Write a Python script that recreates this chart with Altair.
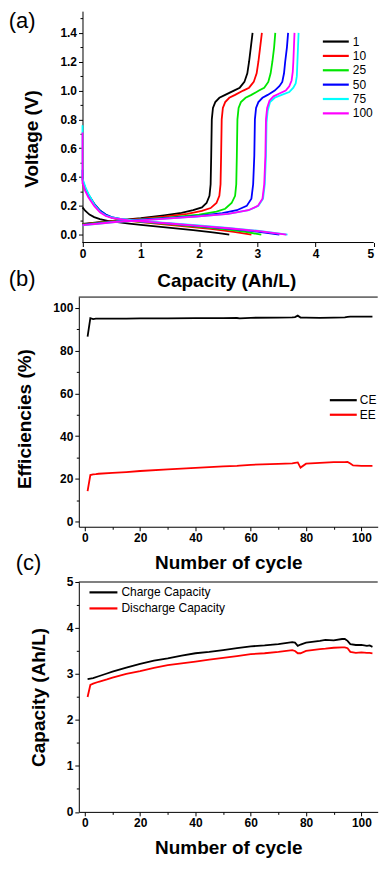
import altair as alt
import pandas as pd

FONT = "Liberation Sans"

# ---------------- Panel (a): voltage profiles ----------------
cycles = ["1", "10", "25", "50", "75", "100"]
cycle_colors = ["#000000", "#ff0000", "#00e600", "#0000ff", "#00ffff", "#ff00ff"]

charge_x = {
    "1":   [0, 0.3, 0.6, 1.0, 1.4, 1.7, 1.9, 2.05, 2.13, 2.18, 2.2, 2.21, 2.22, 2.24, 2.28, 2.35, 2.45, 2.6, 2.7, 2.78, 2.83, 2.86, 2.89, 2.92],
    "10":  [0, 0.3, 0.6, 1.0, 1.4, 1.8, 2.05, 2.2, 2.3, 2.35, 2.37, 2.38, 2.39, 2.41, 2.45, 2.52, 2.62, 2.76, 2.86, 2.94, 2.99, 3.02, 3.05, 3.08],
    "25":  [0, 0.3, 0.6, 1.0, 1.5, 2.0, 2.3, 2.45, 2.56, 2.62, 2.64, 2.65, 2.66, 2.68, 2.72, 2.8, 2.9, 3.03, 3.12, 3.19, 3.23, 3.26, 3.29, 3.31],
    "50":  [0, 0.3, 0.6, 1.0, 1.5, 2.0, 2.4, 2.65, 2.82, 2.9, 2.93, 2.95, 2.96, 2.98, 3.02, 3.09, 3.18, 3.3, 3.38, 3.43, 3.46, 3.48, 3.51, 3.53],
    "75":  [0, 0.3, 0.6, 1.0, 1.5, 2.0, 2.5, 2.85, 3.02, 3.1, 3.13, 3.15, 3.16, 3.18, 3.22, 3.3, 3.42, 3.55, 3.62, 3.66, 3.68, 3.69, 3.7, 3.71],
    "100": [0, 0.3, 0.6, 1.0, 1.5, 2.0, 2.5, 2.85, 3.01, 3.09, 3.12, 3.14, 3.15, 3.17, 3.21, 3.28, 3.38, 3.49, 3.55, 3.59, 3.61, 3.62, 3.63, 3.64],
}
charge_y = {
    "1":   [0.075, 0.088, 0.1, 0.115, 0.135, 0.152, 0.17, 0.19, 0.22, 0.27, 0.35, 0.55, 0.8, 0.88, 0.92, 0.95, 0.97, 1.0, 1.02, 1.06, 1.12, 1.2, 1.3, 1.4],
    "10":  [0.072, 0.085, 0.097, 0.11, 0.125, 0.145, 0.165, 0.185, 0.22, 0.27, 0.35, 0.55, 0.8, 0.88, 0.92, 0.95, 0.97, 1.0, 1.02, 1.06, 1.12, 1.2, 1.3, 1.4],
    "25":  [0.07, 0.083, 0.095, 0.107, 0.12, 0.14, 0.16, 0.18, 0.22, 0.27, 0.35, 0.55, 0.8, 0.88, 0.92, 0.95, 0.97, 1.0, 1.02, 1.06, 1.12, 1.2, 1.3, 1.4],
    "50":  [0.068, 0.08, 0.092, 0.104, 0.117, 0.13, 0.15, 0.17, 0.2, 0.25, 0.35, 0.55, 0.8, 0.88, 0.92, 0.95, 0.97, 1.0, 1.03, 1.06, 1.12, 1.2, 1.3, 1.4],
    "75":  [0.065, 0.077, 0.09, 0.1, 0.113, 0.127, 0.145, 0.17, 0.2, 0.25, 0.35, 0.55, 0.78, 0.86, 0.92, 0.95, 0.97, 0.99, 1.02, 1.05, 1.1, 1.2, 1.3, 1.4],
    "100": [0.066, 0.078, 0.09, 0.1, 0.113, 0.127, 0.145, 0.17, 0.2, 0.25, 0.35, 0.55, 0.8, 0.88, 0.93, 0.96, 0.98, 1.0, 1.03, 1.07, 1.13, 1.2, 1.3, 1.4],
}
discharge_x = {
    "1":   [0, 0.05, 0.12, 0.2, 0.3, 0.45, 0.6, 0.8, 1.0, 1.3, 1.6, 1.9, 2.2, 2.4, 2.52],
    "10":  [0, 0.05, 0.1, 0.2, 0.3, 0.4, 0.5, 0.65, 0.8, 1.0, 1.4, 1.8, 2.2, 2.6, 2.9],
    "25":  [0, 0.05, 0.1, 0.2, 0.3, 0.4, 0.5, 0.65, 0.8, 1.0, 1.5, 2.0, 2.5, 2.8, 3.07],
    "50":  [0, 0, 0.05, 0.1, 0.2, 0.3, 0.4, 0.5, 0.65, 0.8, 1.0, 1.5, 2.0, 2.5, 3.0, 3.38],
    "75":  [0, 0, 0.05, 0.1, 0.2, 0.3, 0.4, 0.5, 0.65, 0.8, 1.0, 1.5, 2.0, 2.5, 3.0, 3.52],
    "100": [0, 0, 0.05, 0.1, 0.2, 0.3, 0.4, 0.5, 0.65, 0.8, 1.0, 1.5, 2.0, 2.5, 3.0, 3.5],
}
discharge_y = {
    "1":   [0.19, 0.165, 0.14, 0.122, 0.108, 0.095, 0.087, 0.077, 0.068, 0.056, 0.044, 0.032, 0.018, 0.008, 0.0],
    "10":  [0.36, 0.31, 0.27, 0.21, 0.165, 0.135, 0.118, 0.105, 0.097, 0.088, 0.072, 0.057, 0.04, 0.02, 0.0],
    "25":  [0.37, 0.32, 0.28, 0.215, 0.168, 0.138, 0.12, 0.107, 0.099, 0.09, 0.073, 0.055, 0.035, 0.02, 0.0],
    "50":  [0.45, 0.38, 0.32, 0.28, 0.215, 0.168, 0.14, 0.122, 0.11, 0.102, 0.093, 0.077, 0.06, 0.042, 0.022, 0.0],
    "75":  [0.76, 0.39, 0.33, 0.285, 0.21, 0.16, 0.133, 0.12, 0.11, 0.103, 0.095, 0.08, 0.064, 0.047, 0.028, 0.0],
    "100": [0.71, 0.36, 0.3, 0.26, 0.2, 0.155, 0.13, 0.117, 0.108, 0.1, 0.092, 0.078, 0.062, 0.045, 0.026, 0.0],
}

# ---------------- Panel (b): efficiencies ----------------
b_cycle = [1, 2, 3, 4, 5, 10, 15, 20, 30, 40, 50, 55, 56, 60, 70, 75, 76, 77, 78, 80, 85, 90, 94, 95, 96, 97, 100, 104]
ce = [86.6, 95.2, 94.8, 95.0, 95.0, 95.0, 95.0, 95.1, 95.1, 95.2, 95.2, 95.3, 95.1, 95.4, 95.5, 95.6, 95.7, 96.4, 95.5, 95.5, 95.4, 95.5, 95.6, 95.8, 95.9, 95.9, 95.9, 95.9]
ee = [14.3, 21.8, 22.1, 22.2, 22.4, 22.8, 23.2, 23.7, 24.5, 25.2, 25.9, 26.1, 26.2, 26.6, 27.0, 27.3, 27.5, 27.7, 25.3, 27.1, 27.5, 27.8, 27.8, 27.9, 27.2, 26.3, 26.1, 26.1]
eff_names = ["CE", "EE"]

# ---------------- Panel (c): capacities ----------------
c_cycle = [1, 2, 3, 5, 8, 10, 15, 20, 25, 30, 35, 40, 45, 50, 55, 60, 65, 70, 75, 76, 77, 78, 80, 85, 87, 90, 93, 94, 95, 96, 98, 100, 102, 103, 104]
charge_cap = [2.89, 2.90, 2.91, 2.95, 3.01, 3.05, 3.14, 3.22, 3.29, 3.34, 3.40, 3.45, 3.48, 3.52, 3.56, 3.60, 3.62, 3.65, 3.69, 3.68, 3.61, 3.64, 3.68, 3.72, 3.74, 3.73, 3.76, 3.76, 3.72, 3.65, 3.63, 3.63, 3.61, 3.62, 3.59]
discharge_cap = [2.50, 2.76, 2.79, 2.83, 2.88, 2.92, 3.00, 3.06, 3.13, 3.19, 3.23, 3.27, 3.31, 3.35, 3.39, 3.43, 3.45, 3.48, 3.52, 3.50, 3.45, 3.45, 3.50, 3.54, 3.55, 3.57, 3.58, 3.58, 3.56, 3.48, 3.46, 3.47, 3.46, 3.46, 3.45]
cap_names = ["Charge Capacity", "Discharge Capacity"]
two_colors = ["#000000", "#ff0000"]

# ---------------- tables ----------------
rows = []
for c in cycles:
    for i, (x, y) in enumerate(zip(charge_x[c], charge_y[c])):
        rows.append({"cycle": c, "curve": c + "-ch", "i": i, "cap": x, "v": y})
    for i, (x, y) in enumerate(zip(discharge_x[c], discharge_y[c])):
        rows.append({"cycle": c, "curve": c + "-dis", "i": i, "cap": x, "v": y})
df_a = pd.DataFrame(rows)

df_b = pd.DataFrame(
    [{"n": n, "eff": "CE", "val": v} for n, v in zip(b_cycle, ce)]
    + [{"n": n, "eff": "EE", "val": v} for n, v in zip(b_cycle, ee)]
)
df_c = pd.DataFrame(
    [{"n": n, "kind": cap_names[0], "val": v} for n, v in zip(c_cycle, charge_cap)]
    + [{"n": n, "kind": cap_names[1], "val": v} for n, v in zip(c_cycle, discharge_cap)]
)

# ---------------- styling helpers ----------------
AX = dict(
    labelFont=FONT, labelFontWeight="bold", labelFontSize=12, labelColor="black",
    titleFont=FONT, titleFontWeight="bold", titleFontSize=19, titleColor="black",
    domainColor="black", tickColor="black", grid=False, labelOverlap=False,
    labelPadding=2, domainWidth=1, tickWidth=1,
)


def legend_layers(names, colors, x0, y0, step, line_len=26, gap=4, fs=12):
    """Hand-drawn line legend (sample line + label) placed inside a panel."""
    layers = []
    for k, (name, col) in enumerate(zip(names, colors)):
        yy = y0 + k * step
        src = pd.DataFrame({"name": [name]})
        layers.append(
            alt.Chart(src).mark_rule(color=col, strokeWidth=2.2).encode(
                x=alt.value(x0), x2=alt.value(x0 + line_len), y=alt.value(yy)
            )
        )
        layers.append(
            alt.Chart(src).mark_text(
                font=FONT, fontSize=fs, align="left", baseline="middle", color="black"
            ).encode(text="name:N", x=alt.value(x0 + line_len + gap), y=alt.value(yy))
        )
    return layers


def panel_label(txt, x, y):
    return alt.Chart(pd.DataFrame({"t": [txt]})).mark_text(
        font=FONT, fontSize=22, align="left", baseline="alphabetic", color="black"
    ).encode(text="t:N", x=alt.value(x), y=alt.value(y))


# sizes kept a little inside the 387x885 window so nothing overflows
WA, HA = 295.7, 232
WB, HB = 299.7, 230.3
WC, HC = 299.7, 230.5
SPACING = 54.7
XMAX = 105.9

# Panel (a)
lines_a = alt.Chart(df_a).mark_line(strokeWidth=1.8).encode(
    x=alt.X("cap:Q", scale=alt.Scale(domain=[-0.0634, 5], nice=False, zero=False),
            axis=alt.Axis(title="Capacity (Ah/L)", values=[i * 0.5 for i in range(11)],
                          format=".0f", domain=False,
                          labelExpr="datum.value % 1 == 0 ? datum.label : ''",
                          tickSize={"condition": {"test": "datum.value % 1 != 0", "value": 2.5}, "value": 4},
                          titlePadding=12, **AX)),
    y=alt.Y("v:Q", scale=alt.Scale(domain=[-0.054, 1.551], nice=False, zero=False),
            axis=alt.Axis(title="Voltage (V)", values=[round(i * 0.1, 1) for i in range(16)],
                          format=".1f", offset=-3.7, titleY=127.7,
                          labelExpr="round(datum.value * 10) % 2 == 0 ? datum.label : ''",
                          tickSize={"condition": {"test": "round(datum.value * 10) % 2 != 0", "value": 2.5}, "value": 4},
                          titlePadding=18, **AX)),
    color=alt.Color("cycle:N", scale=alt.Scale(domain=cycles, range=cycle_colors), legend=None),
    detail="curve:N",
    order="i:Q",
)
xline_a = alt.Chart(pd.DataFrame({"a": [0], "b": [5]})).mark_rule(color="black", strokeWidth=1).encode(
    x="a:Q", x2="b:Q", y=alt.value(HA)
)
panel_a = alt.layer(
    lines_a, xline_a,
    *legend_layers(cycles, cycle_colors, 244.7, 30.5, 14.4),
    panel_label("(a)", -70.3, 17), panel_label("(b)", -70.3, 276),
).properties(width=WA, height=HA)

# Panel (b)
def xaxis_cycle(tp):
    return alt.Axis(
        title="Number of cycle", values=list(range(0, 101, 10)),
        labelExpr="datum.value % 20 == 0 ? datum.label : ''",
        tickSize={"condition": {"test": "datum.value % 20 != 0", "value": 2.5}, "value": 4},
        titlePadding=tp, **AX)

lines_b = alt.Chart(df_b).mark_line(strokeWidth=1.8).encode(
    x=alt.X("n:Q", scale=alt.Scale(domain=[-2.17, XMAX], nice=False, zero=False), axis=xaxis_cycle(10)),
    y=alt.Y("val:Q", scale=alt.Scale(domain=[-2.4, 105.1], nice=False, zero=False),
            axis=alt.Axis(title="Efficiencies (%)", values=list(range(0, 101, 10)), titleY=121.9,
                          labelExpr="datum.value % 20 == 0 ? datum.label : ''",
                          tickSize={"condition": {"test": "datum.value % 20 != 0", "value": 2.5}, "value": 4},
                          titlePadding=18, **AX)),
    color=alt.Color("eff:N", scale=alt.Scale(domain=eff_names, range=two_colors), legend=None),
)
top_b = alt.Chart(pd.DataFrame({"k": [0]})).mark_rule(color="black", strokeWidth=1).encode(
    x=alt.value(0), x2=alt.value(WB), y=alt.value(0)
)
panel_b = alt.layer(
    lines_b, top_b,
    *legend_layers(eff_names, two_colors, 251.7, 103.4, 14.6, line_len=27, gap=3),
    panel_label("(c)", -63.3, 274),
).properties(width=WB, height=HB)

# Panel (c)
lines_c = alt.Chart(df_c).mark_line(strokeWidth=1.8).encode(
    x=alt.X("n:Q", scale=alt.Scale(domain=[-2.17, XMAX], nice=False, zero=False), axis=xaxis_cycle(10)),
    y=alt.Y("val:Q", scale=alt.Scale(domain=[0, 5], nice=False, zero=False),
            axis=alt.Axis(title="Capacity (Ah/L)", values=[i * 0.5 for i in range(11)],
                          format=".0f",
                          labelExpr="datum.value % 1 == 0 ? datum.label : ''",
                          tickSize={"condition": {"test": "datum.value % 1 != 0", "value": 2.5}, "value": 4},
                          titlePadding=18, **AX)),
    color=alt.Color("kind:N", scale=alt.Scale(domain=cap_names, range=two_colors), legend=None),
)
top_c = alt.Chart(pd.DataFrame({"k": [0]})).mark_rule(color="black", strokeWidth=1).encode(
    x=alt.value(0), x2=alt.value(WC), y=alt.value(0)
)
panel_c = alt.layer(
    lines_c, top_c,
    *legend_layers(cap_names, two_colors, 10.7, 10.4, 16.1, line_len=28, gap=4),
).properties(width=WC, height=HC)

chart = (
    alt.vconcat(panel_a, panel_b, panel_c, spacing=SPACING, bounds="flush")
    .resolve_scale(color="independent")
    .properties(padding=0, background="white")
    .configure_view(stroke="transparent")
)

chart.save("out.html", embed_options={"renderer": "svg", "actions": False})
